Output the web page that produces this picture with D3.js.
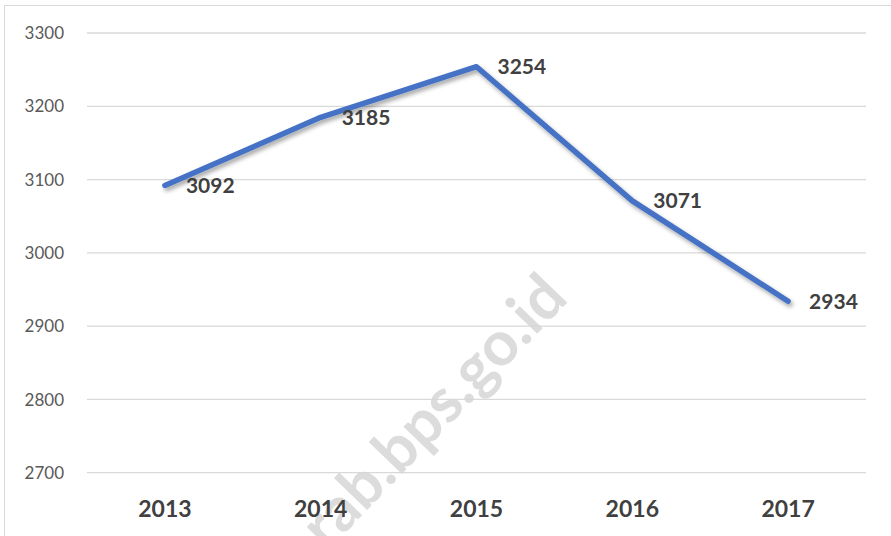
<!DOCTYPE html>
<html>
<head>
	<meta charset="utf-8">
	<title>line-2013-2017</title>
	<style type="text/css">
		body { margin: 0; background: #fff; }
		text { font-family: Lato, "Open Sans", sans-serif; }
	</style>
</head>
<body>
<script type="text/javascript" src="https://cdn.jsdelivr.net/npm/d3@7"></script>
<script type="text/javascript">
	// data
	var years = ["2013", "2014", "2015", "2016", "2017"];
	var values = [3092, 3185, 3254, 3071, 2934];
	var yTicks = [2700, 2800, 2900, 3000, 3100, 3200, 3300];

	var w = 891, h = 536;
	var plotLeft = 87, plotRight = 866, plotTop = 33, plotBottom = 472.7;

	var svg = d3.select("body").append("svg").attr("width", w).attr("height", h);

	// drop shadow for the line
	var defs = svg.append("defs");
	defs.append("filter").attr("id", "shadow")
		.attr("x", "-10%").attr("y", "-10%").attr("width", "120%").attr("height", "130%")
		.append("feDropShadow")
		.attr("dx", 2).attr("dy", 3).attr("stdDeviation", 2)
		.attr("flood-color", "#000").attr("flood-opacity", 0.35);

	// outer border
	svg.append("rect")
		.attr("x", 4.5).attr("y", 5.5).attr("width", 920).attr("height", 560)
		.attr("fill", "none").attr("stroke", "#d9d9d9");

	var x = d3.scalePoint().domain(years).range([plotLeft, plotRight]).padding(0.5);
	var y = d3.scaleLinear().domain([2700, 3300]).range([plotBottom, plotTop]);

	// gridlines
	svg.append("g").selectAll("line")
		.data(yTicks).enter().append("line")
		.attr("x1", plotLeft).attr("x2", plotRight)
		.attr("y1", d => y(d)).attr("y2", d => y(d))
		.attr("stroke", "#d9d9d9").attr("stroke-width", 1.3);

	// y labels
	svg.append("g").selectAll("text")
		.data(yTicks).enter().append("text")
		.attr("x", 64).attr("y", d => y(d))
		.attr("dy", "0.36em")
		.attr("text-anchor", "end")
		.attr("font-size", 17)
		.attr("fill", "#595959")
		.text(d => d);

	// watermark
	svg.append("text")
		.attr("transform", "translate(570,300) rotate(-46)")
		.attr("text-anchor", "end")
		.attr("font-size", 62).attr("font-weight", "bold")
		.attr("fill", "#d6d6d6").attr("opacity", 0.85)
		.text("mrab.bps.go.id");

	// x labels
	svg.append("g").selectAll("text")
		.data(years).enter().append("text")
		.attr("x", d => x(d)).attr("y", 517)
		.attr("text-anchor", "middle")
		.attr("font-size", 23).attr("font-weight", "bold")
		.attr("fill", "#404040")
		.text(d => d);

	// line
	var line = d3.line().x((d, i) => x(years[i])).y(d => y(d));
	svg.append("path")
		.datum(values)
		.attr("d", line)
		.attr("fill", "none")
		.attr("stroke", "#4472c4").attr("stroke-width", 5.5)
		.attr("stroke-linecap", "round").attr("stroke-linejoin", "round")
		.attr("filter", "url(#shadow)");

	// data labels
	svg.append("g").selectAll("text")
		.data(values).enter().append("text")
		.attr("x", (d, i) => x(years[i]) + 21)
		.attr("y", d => y(d))
		.attr("dy", "0.36em")
		.attr("font-size", 21).attr("font-weight", "bold")
		.attr("fill", "#404040")
		.text(d => d);
</script>
</body>
</html>
